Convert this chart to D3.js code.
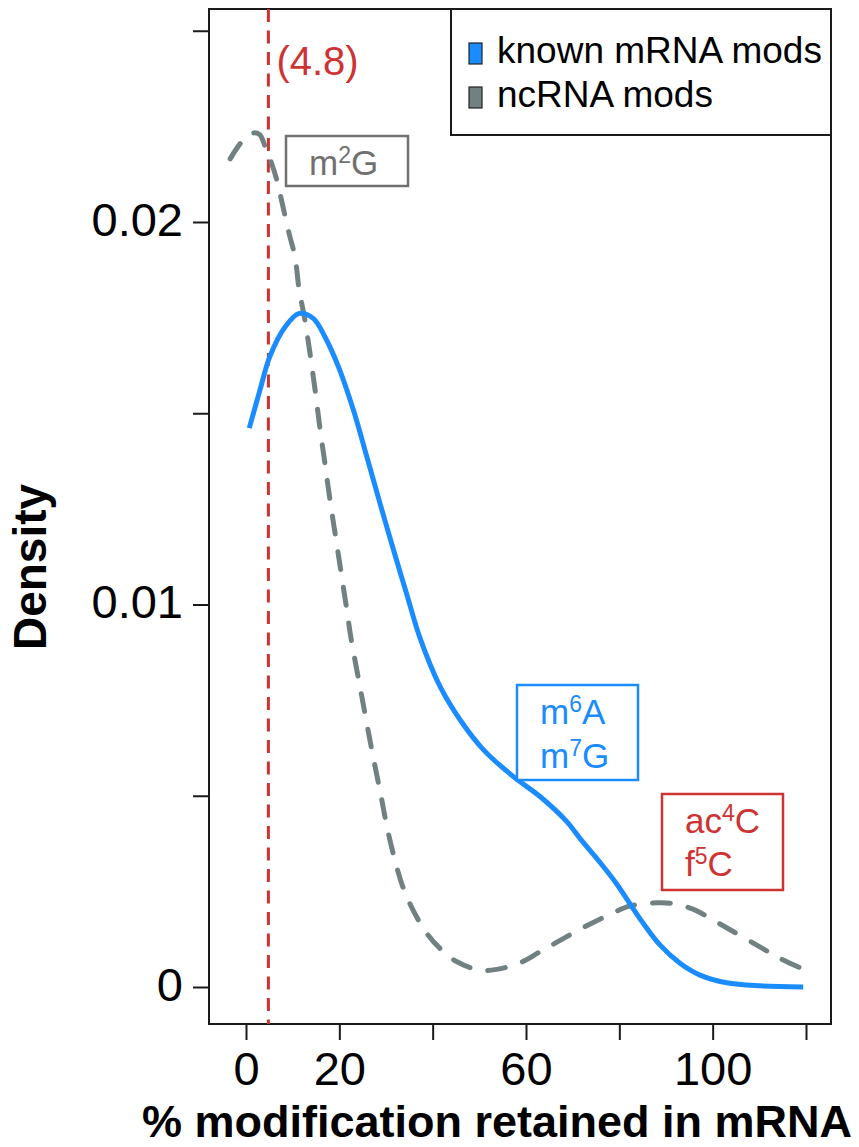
<!DOCTYPE html>
<html>
<head>
<meta charset="utf-8">
<script src="https://cdn.jsdelivr.net/npm/d3@7"></script>
<style>
  body { margin: 0; background: #fff; }
  text { font-family: "Liberation Sans", Arial, Helvetica, sans-serif; }
</style>
</head>
<body>
<svg id="plotSVG" width="859" height="1147"></svg>
<script>

// density of % modification retained in mRNA
var knownX = [0.7, 3.0, 5.1, 8.4, 11.4, 14.4, 16.9, 19.8, 23.0, 25.9, 28.7, 31.6, 34.4, 37.3,
  41.6, 45.9, 50.9, 57.3, 63.0, 68.7, 71.6, 75.9, 79.4, 82.3, 85.1, 88.7, 93.0, 97.3, 103.0, 110.1, 119.4];
var knownDensity = [0.01461, 0.01561, 0.01648, 0.01726, 0.01761, 0.01748, 0.01700, 0.01622, 0.01509,
  0.01386, 0.01265, 0.01143, 0.01029, 0.00912, 0.00785, 0.00698, 0.00620, 0.00550, 0.00498, 0.00433,
  0.00388, 0.00325, 0.00270, 0.00217, 0.00167, 0.00110, 0.00062, 0.00031, 0.00011, 0.00003, 0.0];

var ncX = [-3.4, -0.9, 1.2, 2.9, 4.1, 5.5, 6.6, 7.5, 8.4, 9.4, 10.5, 11.4, 12.5, 13.7, 14.8, 15.9,
  16.9, 18.0, 19.2, 20.4, 21.6, 22.5, 24.5, 26.8, 29.1, 30.2, 31.9, 33.6, 35.8, 38.7, 41.9, 45.2,
  50.1, 53.7, 58.7, 63.0, 67.9, 73.0, 78.7, 82.3, 88.0, 90.9, 95.9, 100.1, 104.4, 110.1, 114.4, 119.4];
var ncDensity = [0.02165, 0.02210, 0.02232, 0.02229, 0.02197, 0.02153, 0.02110, 0.02063, 0.02014,
  0.01962, 0.01909, 0.01822, 0.01752, 0.01658, 0.01561, 0.01456, 0.01370, 0.01273, 0.01177, 0.01082,
  0.00986, 0.00912, 0.00780, 0.00630, 0.00489, 0.00419, 0.00332, 0.00262, 0.00201, 0.00141, 0.00097,
  0.00066, 0.00044, 0.00046, 0.00063, 0.00092, 0.00126, 0.00160, 0.00194, 0.00212, 0.00220, 0.00219,
  0.00203, 0.00175, 0.00145, 0.00105, 0.00075, 0.00047];

var cutoff = 4.8;
var xTicks = [0, 20, 40, 60, 80, 100, 120];
var xTickLabels = ["0", "20", "", "60", "", "100", ""];
var yTicks = [0, 0.005, 0.01, 0.015, 0.02, 0.025];
var yTickLabels = ["0", "", "0.01", "", "0.02", ""];
var seriesNames = ["known mRNA mods", "ncRNA mods"];

var blue = "#1a8cff";
var grey = "#718181";
var red = "#cd3333";

let svg = d3.select("#plotSVG");

let xScale = d3.scaleLinear()
  .domain([0, 120])
  .range([246, 806]);

let yScale = d3.scaleLinear()
  .domain([0, 0.02])
  .range([987, 222]);

// plot box (R style: axes sit outside the box)
let box = { left: 209, right: 831, top: 9, bottom: 1024 };

svg.append("rect")
  .attr("x", box.left)
  .attr("y", box.top)
  .attr("width", box.right - box.left)
  .attr("height", box.bottom - box.top)
  .attr("fill", "none")
  .attr("stroke", "#1a1a1a")
  .attr("stroke-width", 2)

// y axis
svg.append("g")
  .attr("id", "yAxis")
  .attr("transform", "translate(" + box.left + ",0)")
  .call(d3.axisLeft(yScale)
    .tickValues(yTicks)
    .tickFormat((d, i) => yTickLabels[i])
    .tickSize(16)
    .tickPadding(10)
    .tickSizeOuter(0)
  )
  .call(g => g.select(".domain").remove())
  .call(g => g.selectAll(".tick line").attr("stroke", "#1a1a1a").attr("stroke-width", 2))
  .call(g => g.selectAll(".tick text")
    .attr("dy", "13px")
    .style("font-size", "47px")
    .attr("fill", "#000"))

// x axis
svg.append("g")
  .attr("id", "xAxis")
  .attr("transform", "translate(0," + box.bottom + ")")
  .call(d3.axisBottom(xScale)
    .tickValues(xTicks)
    .tickFormat((d, i) => xTickLabels[i])
    .tickSize(16)
    .tickSizeOuter(0)
  )
  .call(g => g.select(".domain").remove())
  .call(g => g.selectAll(".tick line").attr("stroke", "#1a1a1a").attr("stroke-width", 2))
  .call(g => g.selectAll(".tick text")
    .attr("y", 61)
    .attr("dy", 0)
    .style("font-size", "47px")
    .attr("fill", "#000"))

// axis titles
svg.append("text")
  .attr("x", 497)
  .attr("y", 1137)
  .attr("text-anchor", "middle")
  .style("font-size", "45px")
  .style("font-weight", "bold")
  .text("% modification retained in mRNA")

svg.append("text")
  .attr("transform", "translate(46,567) rotate(-90)")
  .attr("text-anchor", "middle")
  .style("font-size", "46px")
  .style("font-weight", "bold")
  .text("Density")

// cutoff line
svg.append("line")
  .attr("x1", xScale(cutoff))
  .attr("x2", xScale(cutoff))
  .attr("y1", box.top)
  .attr("y2", box.bottom)
  .attr("stroke", red)
  .attr("stroke-width", 3)
  .attr("stroke-dasharray", "13,8.5")

svg.append("text")
  .attr("x", xScale(cutoff) + 8)
  .attr("y", 75)
  .attr("fill", red)
  .style("font-size", "40px")
  .text("(" + cutoff + ")")

let line = d3.line()
  .x(d => xScale(d[0]))
  .y(d => yScale(d[1]))
  .curve(d3.curveCatmullRom)

svg.append("path")
  .datum(ncX.map((x, i) => [x, ncDensity[i]]))
  .attr("d", line)
  .attr("fill", "none")
  .attr("stroke", grey)
  .attr("stroke-width", 5)
  .attr("stroke-linecap", "round")
  .attr("stroke-dasharray", "18,18")

svg.append("path")
  .datum(knownX.map((x, i) => [x, knownDensity[i]]))
  .attr("d", line)
  .attr("fill", "none")
  .attr("stroke", blue)
  .attr("stroke-width", 5)
  .attr("stroke-linejoin", "round")

// labelled boxes: each line is [base, superscript, rest]
let notes = [
  { x: 286, y: 136, w: 122, h: 50, color: "#707070", lines: [["m", "2", "G"]], base: [175] },
  { x: 517, y: 685, w: 121, h: 95, color: blue, lines: [["m", "6", "A"], ["m", "7", "G"]], base: [724, 768] },
  { x: 662, y: 794, w: 121, h: 96, color: red, lines: [["ac", "4", "C"], ["f", "5", "C"]], base: [833, 876] }
];

notes.forEach(n => {
  svg.append("rect")
    .attr("x", n.x)
    .attr("y", n.y)
    .attr("width", n.w)
    .attr("height", n.h)
    .attr("fill", "white")
    .attr("stroke", n.color)
    .attr("stroke-width", 2.5)

  n.lines.forEach((parts, i) => {
    let t = svg.append("text")
      .attr("x", n.x + 23)
      .attr("y", n.base[i])
      .attr("fill", n.color)
      .style("font-size", "35px")
    t.append("tspan").text(parts[0])
    t.append("tspan").attr("dy", -12).style("font-size", "23px").text(parts[1])
    t.append("tspan").attr("dy", 12).text(parts[2])
  })
})

// legend
let legend = svg.append("g")

legend.append("rect")
  .attr("x", 451)
  .attr("y", box.top)
  .attr("width", box.right - 451)
  .attr("height", 126)
  .attr("fill", "white")
  .attr("stroke", "#1a1a1a")
  .attr("stroke-width", 2)

legend.selectAll(".key")
  .data(seriesNames)
  .join("rect")
  .attr("class", "key")
  .attr("x", 469)
  .attr("y", (d, i) => 43 + i * 44)
  .attr("width", 13)
  .attr("height", 21)
  .attr("fill", (d, i) => i == 0 ? blue : grey)
  .attr("stroke", "#222")
  .attr("stroke-width", 1.2)

legend.selectAll(".keyText")
  .data(seriesNames)
  .join("text")
  .attr("class", "keyText")
  .attr("x", 497)
  .attr("y", (d, i) => 63 + i * 44)
  .style("font-size", "37px")
  .text(d => d)

</script>
</body>
</html>
